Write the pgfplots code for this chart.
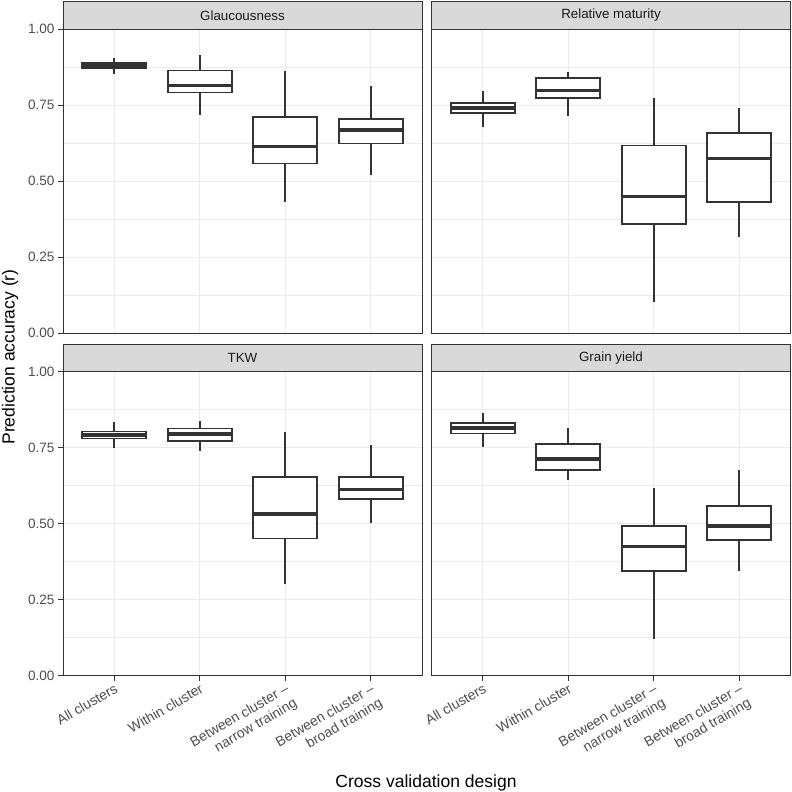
\documentclass[border=0pt]{standalone}
\usepackage{pgfplots}
\pgfplotsset{compat=1.18}
\usepgfplotslibrary{statistics}
\usepackage{fontspec}
\setmainfont{Liberation Sans}
\definecolor{grey10}{HTML}{1A1A1A}
\definecolor{grey20}{HTML}{333333}
\definecolor{grey30}{HTML}{4D4D4D}
\definecolor{grey85}{HTML}{D9D9D9}
\definecolor{grey92}{HTML}{EBEBEB}
\pgfplotsset{
  panel/.style={
    scale only axis, width=359bp, height=304bp,
    xmin=0.4, xmax=4.6, ymin=0, ymax=1,
    xtick={1,2,3,4}, ytick={0,0.25,0.5,0.75,1},
    minor ytick={0.125,0.375,0.625,0.875},
    grid=both,
    major grid style={grey92, line width=1.1bp},
    minor grid style={grey92, line width=0.55bp},
    axis line style={grey20, line width=1bp},
    tick style={grey20, line width=1bp},
    tick align=outside,
    major tick length=5bp,
    minor tick length=0pt,
    xtick pos=bottom, ytick pos=left,
    tick label style={font=\fontsize{13.6}{16}\selectfont, text=grey30},
    yticklabels={0.00,0.25,0.50,0.75,1.00},
    xticklabels={All clusters, Within cluster, {Between cluster –\\narrow training}, {Between cluster –\\broad training}},
    x tick label style={rotate=30, anchor=north east, align=right, inner sep=1.5bp, font=\fontsize{14}{16.5}\selectfont},
    boxplot/draw direction=y,
    boxplot/box extend=0.75,
    boxplot/whisker extend=0,
    boxplot/every median/.style={line width=3.6bp},
  },
  bx/.style={draw=grey20, fill=white, line width=1.7bp, solid},
  noy/.style={ymajorticks=false, yticklabels={}},
  nox/.style={xmajorticks=false, xticklabels={}},
}
\newcommand{\strip}[2]{%
  \draw[grey20, fill=grey85, line width=1bp] (#1.north west) rectangle ([yshift=27.5bp]#1.north east);
  \node[text=grey10, font=\fontsize{13.4}{15.5}\selectfont] at ([yshift=13.75bp]#1.north) {#2};}
\begin{document}
\begin{tikzpicture}
\useasboundingbox (0,0) rectangle (792bp,792bp);
% Top left: Glaucousness
\begin{axis}[panel, nox, name=A, at={(63bp,458.7bp)}, anchor=south west]
\addplot[bx, boxplot prepared={draw position=1, lower whisker=0.853, lower quartile=0.871, median=0.880, upper quartile=0.889, upper whisker=0.905}] coordinates {};
\addplot[bx, boxplot prepared={draw position=2, lower whisker=0.717, lower quartile=0.792, median=0.815, upper quartile=0.864, upper whisker=0.916}] coordinates {};
\addplot[bx, boxplot prepared={draw position=3, lower whisker=0.431, lower quartile=0.559, median=0.615, upper quartile=0.712, upper whisker=0.864}] coordinates {};
\addplot[bx, boxplot prepared={draw position=4, lower whisker=0.521, lower quartile=0.624, median=0.668, upper quartile=0.705, upper whisker=0.814}] coordinates {};
\end{axis}
\strip{A}{Glaucousness}
% Top right: Relative maturity
\begin{axis}[panel, nox, noy, name=B, at={(431.5bp,458.7bp)}, anchor=south west]
\addplot[bx, boxplot prepared={draw position=1, lower whisker=0.680, lower quartile=0.725, median=0.742, upper quartile=0.757, upper whisker=0.797}] coordinates {};
\addplot[bx, boxplot prepared={draw position=2, lower whisker=0.714, lower quartile=0.774, median=0.799, upper quartile=0.839, upper whisker=0.859}] coordinates {};
\addplot[bx, boxplot prepared={draw position=3, lower whisker=0.104, lower quartile=0.360, median=0.450, upper quartile=0.618, upper whisker=0.773}] coordinates {};
\addplot[bx, boxplot prepared={draw position=4, lower whisker=0.318, lower quartile=0.432, median=0.575, upper quartile=0.660, upper whisker=0.741}] coordinates {};
\end{axis}
\strip{B}{Relative maturity}
% Bottom left: TKW
\begin{axis}[panel, name=C, at={(63bp,116.4bp)}, anchor=south west]
\addplot[bx, boxplot prepared={draw position=1, lower whisker=0.748, lower quartile=0.780, median=0.792, upper quartile=0.803, upper whisker=0.834}] coordinates {};
\addplot[bx, boxplot prepared={draw position=2, lower whisker=0.739, lower quartile=0.772, median=0.794, upper quartile=0.813, upper whisker=0.836}] coordinates {};
\addplot[bx, boxplot prepared={draw position=3, lower whisker=0.302, lower quartile=0.451, median=0.532, upper quartile=0.653, upper whisker=0.801}] coordinates {};
\addplot[bx, boxplot prepared={draw position=4, lower whisker=0.501, lower quartile=0.580, median=0.612, upper quartile=0.653, upper whisker=0.757}] coordinates {};
\end{axis}
\strip{C}{TKW}
% Bottom right: Grain yield
\begin{axis}[panel, noy, name=D, at={(431.5bp,116.4bp)}, anchor=south west]
\addplot[bx, boxplot prepared={draw position=1, lower whisker=0.752, lower quartile=0.796, median=0.814, upper quartile=0.832, upper whisker=0.864}] coordinates {};
\addplot[bx, boxplot prepared={draw position=2, lower whisker=0.642, lower quartile=0.676, median=0.712, upper quartile=0.761, upper whisker=0.813}] coordinates {};
\addplot[bx, boxplot prepared={draw position=3, lower whisker=0.121, lower quartile=0.344, median=0.425, upper quartile=0.492, upper whisker=0.616}] coordinates {};
\addplot[bx, boxplot prepared={draw position=4, lower whisker=0.344, lower quartile=0.445, median=0.493, upper quartile=0.557, upper whisker=0.677}] coordinates {};
\end{axis}
\strip{D}{Grain yield}
\node[rotate=90, font=\fontsize{17.6}{20}\selectfont] at (10bp,435bp) {Prediction accuracy (r)};
\node[anchor=base, font=\fontsize{17.6}{20}\selectfont] at (426bp,4.5bp) {Cross validation design};
\end{tikzpicture}
\end{document}
